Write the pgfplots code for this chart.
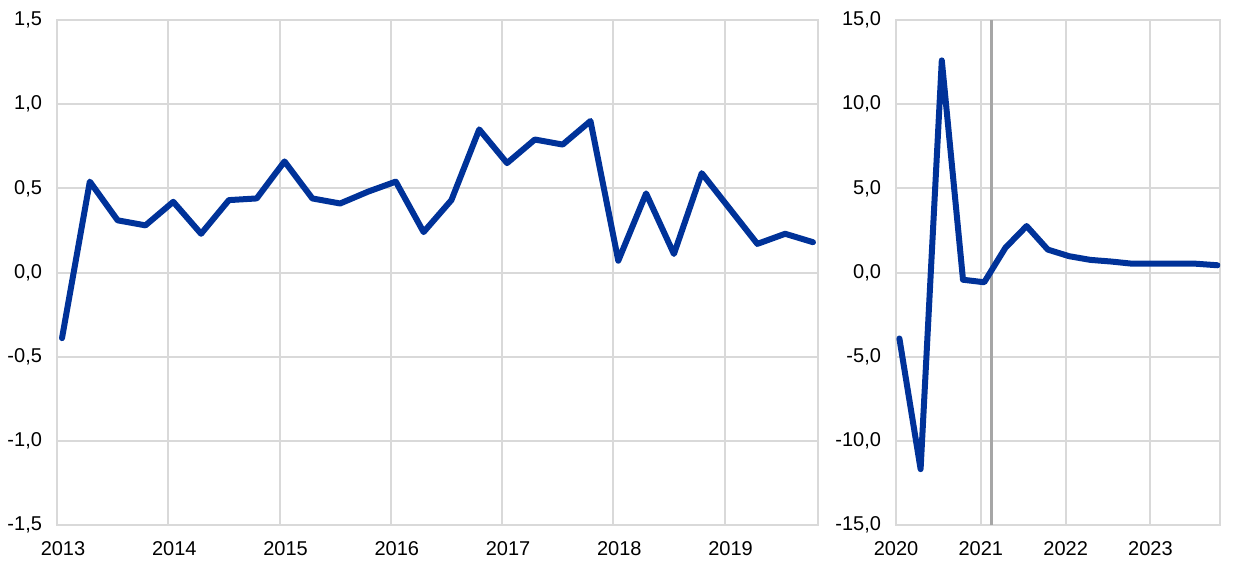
\documentclass[border=0pt]{standalone}
\usepackage{pgfplots}
\pgfplotsset{compat=1.18}
\usepackage{fontspec}
\setmainfont{Liberation Sans}
\definecolor{ecbblue}{HTML}{003299}
\definecolor{gridgray}{HTML}{D9D9D9}
\definecolor{vgray}{HTML}{A6A6A6}
\pgfplotsset{
  ecb/.style={
    scale only axis, height=378.75pt,
    ymin=-1.5, ymax=1.5,
    axis line style={gridgray, line width=1.5pt},
    grid=major, major grid style={gridgray, line width=1.5pt},
    major tick length=0pt,
    tick label style={font=\fontsize{15}{18}\selectfont, black},
    /pgf/number format/assume math mode=true,
    yticklabel style={/pgf/number format/.cd, use comma, fixed, fixed zerofill, precision=1, 1000 sep={}, /tikz/.cd, xshift=-7.75pt},
    xticklabel style={yshift=-9pt},
  }
}
\begin{document}
\begin{tikzpicture}
\begin{axis}[ecb, at={(0pt,0pt)}, anchor=south west, width=570.75pt,
  xmin=2013, xmax=2019.84,
  ytick={-1.5,-1,...,1.5},
  xtick={2013,2014,2015,2016,2017,2018,2019},
  xticklabels={2013,2014,2015,2016,2017,2018,2019},
  xticklabel style={xshift=4.5pt},
]
\addplot[ecbblue, line width=4.5pt, line join=round, line cap=round] coordinates {
(2013.045,-0.39) (2013.295,0.54) (2013.545,0.31) (2013.795,0.28)
(2014.045,0.42) (2014.295,0.23) (2014.545,0.43) (2014.795,0.44)
(2015.045,0.66) (2015.295,0.44) (2015.545,0.41) (2015.795,0.48)
(2016.045,0.54) (2016.295,0.24) (2016.545,0.43) (2016.795,0.85)
(2017.045,0.65) (2017.295,0.79) (2017.545,0.76) (2017.795,0.90)
(2018.045,0.07) (2018.295,0.47) (2018.545,0.11) (2018.795,0.59)
(2019.045,0.38) (2019.295,0.17) (2019.545,0.23) (2019.795,0.18)
};
\end{axis}
\begin{axis}[ecb, at={(629.25pt,0pt)}, anchor=south west, width=243pt,
  xmin=2020, xmax=2023.82,
  ymin=-15, ymax=15,
  ytick={-15,-10,...,15},
  xtick={2020,2021,2022,2023},
  xticklabels={2020,2021,2022,2023},
]
\draw[vgray, line width=2.25pt] (axis cs:2021.13,-15) -- (axis cs:2021.13,15);
\addplot[ecbblue, line width=4.5pt, line join=round, line cap=round] coordinates {
(2020.04,-3.92) (2020.29,-11.68) (2020.54,12.6) (2020.79,-0.43)
(2021.04,-0.58) (2021.29,1.47) (2021.54,2.76) (2021.79,1.36)
(2022.04,0.97) (2022.29,0.75) (2022.54,0.65) (2022.79,0.52)
(2023.04,0.52) (2023.29,0.52) (2023.54,0.52) (2023.79,0.43)
};
\end{axis}
\pgfresetboundingbox
\path[use as bounding box] (-42.75pt,-33pt) rectangle (887.25pt,393.75pt);
\end{tikzpicture}
\end{document}
